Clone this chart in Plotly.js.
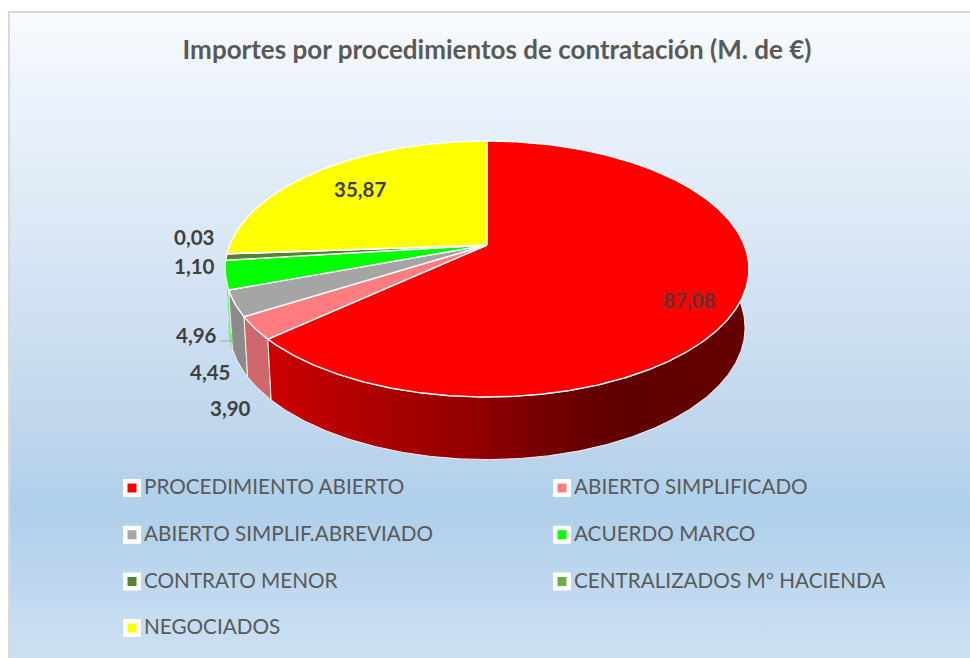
<!DOCTYPE html>
<html>
<head>
<meta charset="utf-8">
<script src="https://cdn.plot.ly/plotly-3.0.1.min.js"></script>
<style>
html,body{margin:0;padding:0;background:#fff;width:970px;height:658px;overflow:hidden}
#bg{position:absolute;left:8px;top:11px;width:962px;height:647px;box-sizing:border-box;border-left:2px solid #d9d9d9;border-top:2px solid #d9d9d9;
background:linear-gradient(to bottom,#f8fbfe 0,#ebf2fb 14%,#dde9f6 31%,#bfd6ed 65%,#afcfea 77%,#cde0f3 100%)}
#chart{position:absolute;left:0;top:0;width:970px;height:658px}
</style>
</head>
<body>
<div id="bg"></div>
<div id="chart"></div>
<script>
// ---- data ----
const categories = ["PROCEDIMIENTO ABIERTO","ABIERTO SIMPLIFICADO","ABIERTO SIMPLIF.ABREVIADO","ACUERDO MARCO","CONTRATO MENOR","CENTRALIZADOS Mº HACIENDA","NEGOCIADOS"];
const values = [87.08,3.90,4.45,4.96,1.10,0.03,35.87];
const labels = ["87,08","3,90","4,45","4,96","1,10","0,03","35,87"];
const topColors = ["#ff0000","#ff7c80","#a5a5a5","#00ff00","#548235","#70ad47","#ffff00"];
const wallColors = ["#8a0000","#cf676d","#8b8b8b","#7cf07c","#3c5e26","#507c33","#b3b300"];
const wallEdges = ["rgba(255,255,255,0.85)","rgba(255,255,255,0.85)","rgba(255,255,255,0.85)","#6cf06c","#6cf06c","#6cf06c","rgba(255,255,255,0.85)"];
const titleText = "Importes por procedimientos de contratación (M. de €)";

// ---- layout constants (pixels; the axes span the page) ----
const W = 970, H = 658;
const apex = {x:487, y:245}, A = 257.3, B = 123.5, K = 0.1875;
const rim = {sx:0.985, sy:1.03, y:303};
const labelPos = [[689,300],[230,408],[210,372],[196,335],[194,266],[194,237],[360,189]];
const labelColor = ["#5a3636","#404040","#404040","#404040","#404040","#404040","#404040"];
const legendCols = [132,562], legendRow0 = 488, legendStep = 46.7;

function proj(deg, lower){
  const t = deg*Math.PI/180, x = Math.sin(t), y = Math.cos(t), w = 1+K*y;
  const px = A*x/w, py = B*y/w;
  return lower ? [apex.x+px*rim.sx, rim.y-py*rim.sy] : [apex.x+px, apex.y-py];
}
function arc(a0,a1,lower){
  const n = Math.max(2,Math.ceil(Math.abs(a1-a0)/0.5)), pts=[];
  for(let i=0;i<=n;i++) pts.push(proj(a0+(a1-a0)*i/n,lower));
  return pts;
}
const total = values.reduce((a,b)=>a+b,0);
let acc = 0;
const spans = values.map(v=>{const s=acc/total*360; acc+=v; return [s,acc/total*360];});

const traces = [];
// side walls, back to front
for(let i=values.length-1;i>=0;i--){
  const [a0,a1]=spans[i];
  const pts = arc(a0,a1,false).concat(arc(a1,a0,true));
  pts.push(pts[0]);
  const tr = {type:"scatter",mode:"lines",name:categories[i]+" (lateral)",showlegend:false,hoverinfo:"skip",
    x:pts.map(p=>p[0]),y:pts.map(p=>p[1]),fill:"toself",fillcolor:wallColors[i],
    line:{color:wallEdges[i],width:1}};
  if(i===0){
    delete tr.fillcolor;
    tr.fillgradient={type:"horizontal",start:268,stop:750,
      colorscale:[[0,"#cc0000"],[0.2,"#b00000"],[0.42,"#930000"],[0.6,"#700000"],[0.74,"#5e0000"],[1,"#660000"]]};
  }
  traces.push(tr);
}
// top face
values.forEach((v,i)=>{
  const [a0,a1]=spans[i];
  const pts=[[apex.x,apex.y]].concat(arc(a0,a1,false)); pts.push([apex.x,apex.y]);
  traces.push({type:"scatter",mode:"lines",name:categories[i],showlegend:false,hoverinfo:"skip",
    x:pts.map(p=>p[0]),y:pts.map(p=>p[1]),fill:"toself",fillcolor:topColors[i],
    line:{color:"#ffffff",width:1.4}});
});
// legend
traces.push({type:"scatter",mode:"markers",name:"leyenda",showlegend:false,hoverinfo:"skip",
  x:categories.map((c,i)=>legendCols[i%2]),
  y:categories.map((c,i)=>legendRow0+legendStep*Math.floor(i/2)),
  cliponaxis:false,
  marker:{symbol:"square",size:13.5,color:topColors,line:{color:"#ffffff",width:4.5}}});
traces.push({type:"scatter",mode:"text",name:"leyenda texto",showlegend:false,hoverinfo:"skip",
  x:categories.map((c,i)=>legendCols[i%2]+12),
  y:categories.map((c,i)=>legendRow0+1+legendStep*Math.floor(i/2)),
  text:categories,textposition:"middle right",cliponaxis:false,
  textfont:{family:"Lato, sans-serif",size:20.7,color:"#595959"}});

const annotations = labels.map((t,i)=>({xref:"x",yref:"y",x:labelPos[i][0],y:labelPos[i][1],text:t,showarrow:false,
  xanchor:"center",yanchor:"middle",font:{family:"Lato, sans-serif",size:20.5,weight:700,color:labelColor[i]}}));

const layout = {
  width:W,height:H,margin:{l:0,r:0,t:0,b:0},autosize:false,showlegend:false,
  paper_bgcolor:"rgba(0,0,0,0)",plot_bgcolor:"rgba(0,0,0,0)",hovermode:false,
  title:{text:"<b>"+titleText+"</b>",x:497/W,xref:"paper",xanchor:"center",y:1-50/H,yref:"paper",yanchor:"middle",
    font:{family:"Lato, sans-serif",size:26,color:"#595959"}},
  xaxis:{range:[0,W],visible:false,fixedrange:true},
  yaxis:{range:[H,0],visible:false,fixedrange:true},
  annotations:annotations,
  shapes:[{type:"path",path:"M 220 341 L 232 341 L 232 333",line:{color:"#a6a6a6",width:1.2},layer:"above"}]
};
Plotly.newPlot("chart",traces,layout,{displayModeBar:false,staticPlot:true});
</script>
</body>
</html>
